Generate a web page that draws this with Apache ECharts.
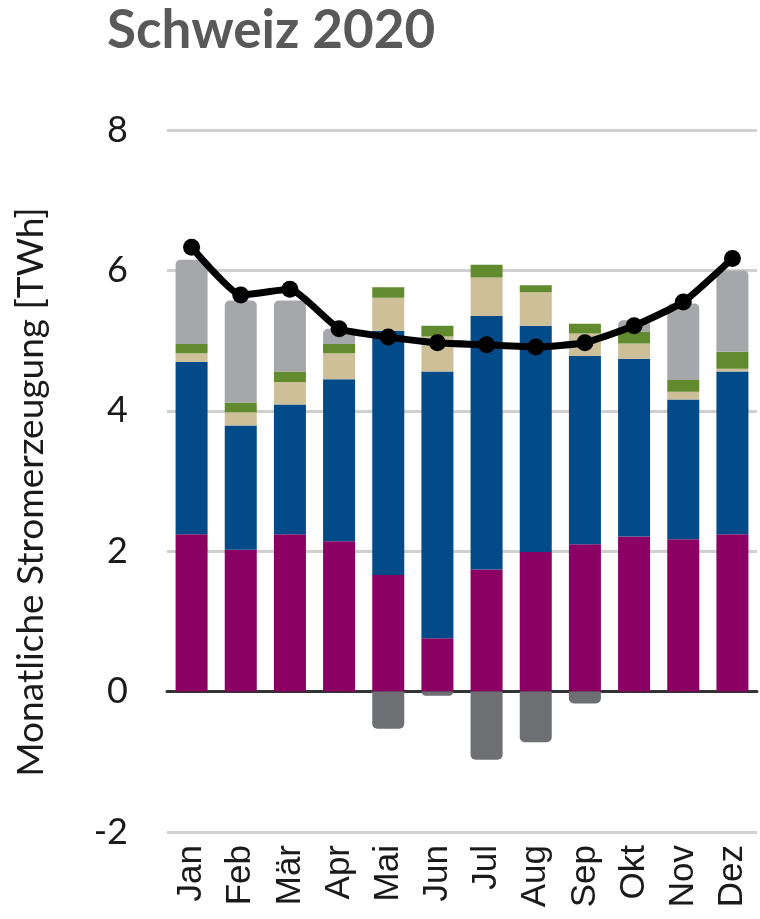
<!DOCTYPE html>
<html>
<head>
<meta charset="utf-8">
<script src="https://cdn.jsdelivr.net/npm/echarts@6/dist/echarts.min.js"></script>
<style>
  html, body { margin: 0; padding: 0; background: #fff; }
  #chart { width: 760px; height: 919px; }
</style>
</head>
<body>
<div id="chart"></div>
<script>
// Monatswerte in TWh
var months = ['Jan', 'Feb', 'Mär', 'Apr', 'Mai', 'Jun', 'Jul', 'Aug', 'Sep', 'Okt', 'Nov', 'Dez'];
var kernkraft = [2.24, 2.02, 2.24, 2.14, 1.66, 0.76, 1.74, 1.99, 2.10, 2.21, 2.17, 2.24];
var wasserkraft = [2.46, 1.77, 1.85, 2.31, 3.48, 3.80, 3.61, 3.22, 2.68, 2.53, 1.99, 2.32];
var solar = [0.12, 0.19, 0.32, 0.37, 0.47, 0.50, 0.55, 0.48, 0.32, 0.22, 0.11, 0.04];
var sonstige = [0.13, 0.14, 0.15, 0.13, 0.15, 0.15, 0.18, 0.10, 0.14, 0.17, 0.17, 0.24];
var importe = [1.20, 1.45, 1.01, 0.22, 0, 0, 0, 0, 0, 0.16, 1.09, 1.16];
var exporte = [0, 0, 0, 0, -0.53, -0.06, -0.97, -0.72, -0.17, 0, 0, 0];
var verbrauch = [6.33, 5.65, 5.73, 5.17, 5.05, 4.97, 4.94, 4.91, 4.97, 5.21, 5.55, 6.17];
var yTicks = [-2, 0, 2, 4, 6, 8];

var font = 'Lato, "Open Sans", sans-serif';

function bar(name, data, color, radius) {
  return {
    name: name,
    type: 'bar',
    stack: 'total',
    barWidth: 32,
    data: data,
    itemStyle: { color: color, borderRadius: radius || 0 },
    emphasis: { disabled: true }
  };
}

var myChart = echarts.init(document.getElementById('chart'));
myChart.setOption({
  animation: false,
  title: {
    text: 'Schweiz 2020',
    left: 102,
    top: -1,
    textStyle: { fontFamily: font, fontSize: 53, fontWeight: 'bold', color: '#595959' }
  },
  grid: { left: 167, right: 3, top: 130, bottom: 87 },
  xAxis: {
    type: 'category',
    data: months,
    axisTick: { show: false },
    axisLine: { onZero: true, lineStyle: { color: '#333', width: 3 } },
    axisLabel: {
      rotate: 90,
      margin: 13,
      fontFamily: '"Liberation Sans", Arial, sans-serif',
      fontSize: 35,
      color: '#1a1a1a'
    }
  },
  yAxis: {
    type: 'value',
    min: yTicks[0],
    max: yTicks[yTicks.length - 1],
    interval: 2,
    name: 'Monatliche Stromerzeugung [TWh]',
    nameLocation: 'middle',
    nameGap: 117,
    nameTextStyle: { fontFamily: font, fontSize: 37, color: '#1a1a1a', padding: [0, 22, 0, 0] },
    axisLabel: { margin: 39, fontFamily: font, fontSize: 36, color: '#1a1a1a' },
    axisLine: { show: false },
    axisTick: { show: false },
    splitLine: { lineStyle: { color: '#d0d0d0', width: 3 } }
  },
  series: [
    bar('Kernkraft', kernkraft, '#8b0062'),
    bar('Wasserkraft', wasserkraft, '#024a88'),
    bar('Solar', solar, '#cdbf97'),
    bar('Wind und Sonstige', sonstige, '#628a2f'),
    bar('Import', importe, '#a6a7ab', [5, 5, 0, 0]),
    bar('Export', exporte, '#6e6f73', [0, 0, 5, 5]),
    {
      name: 'Verbrauch',
      type: 'line',
      data: verbrauch,
      smooth: 0.15,
      symbol: 'circle',
      symbolSize: 17,
      lineStyle: { color: '#000', width: 7 },
      itemStyle: { color: '#000' },
      z: 10
    }
  ]
});
</script>
</body>
</html>
